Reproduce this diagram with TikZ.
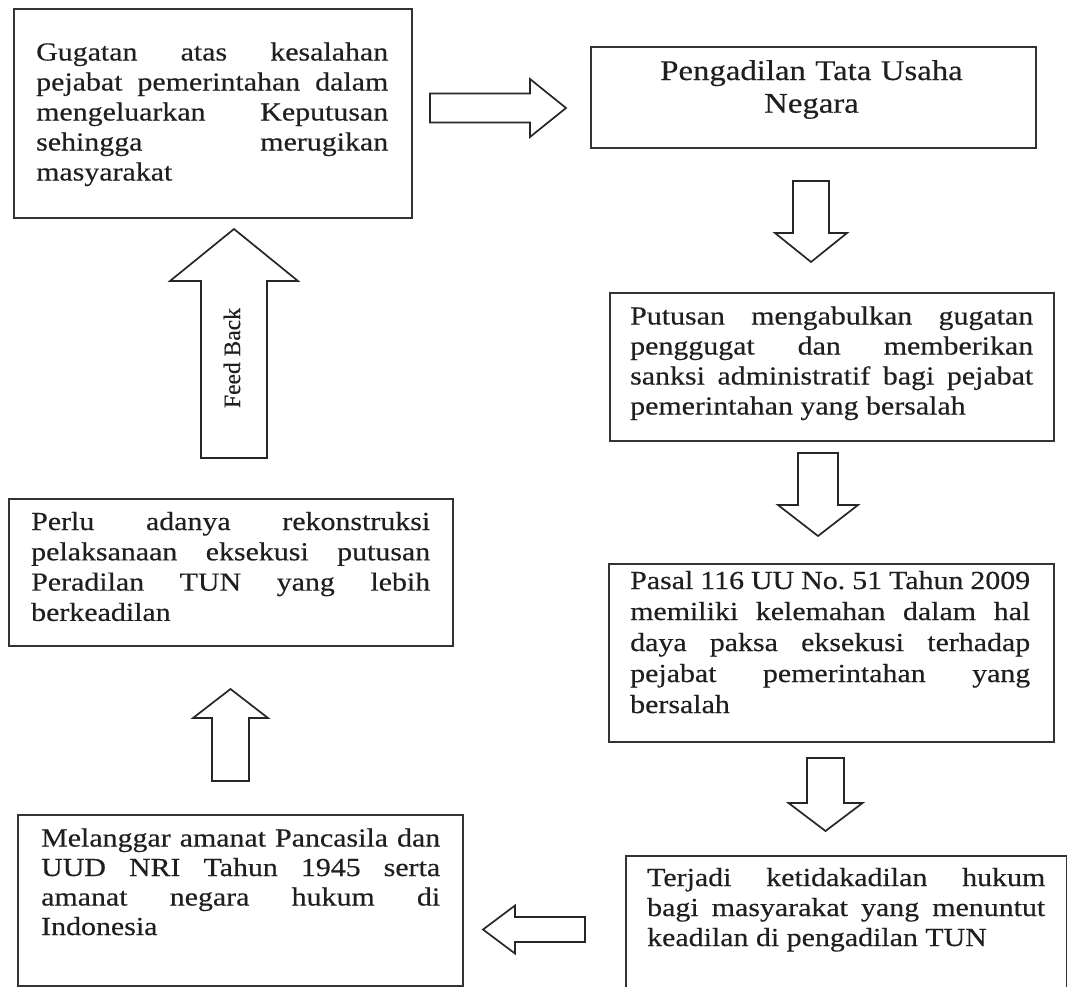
\documentclass[tikz,border=0pt]{standalone}
\usepackage{fontspec}
\setmainfont{Liberation Serif}[FakeStretch=1.15, FakeBold=0.4]
\newfontfamily\plainserif{Liberation Serif}[FakeBold=0.4]
\hyphenpenalty=10000 \exhyphenpenalty=10000
\tolerance=10000 \hbadness=10000 \hfuzz=20pt
\frenchspacing

% hollow block arrow: #1 tail point, #2 direction (deg), #3 length,
% #4 shaft half width, #5 head half width, #6 head length
\newcommand\blockarrow[6]{%
  \draw[blockarrow, shift={#1}, rotate=#2]
    (0,{-#4}) -- ({#3-#6},{-#4}) -- ({#3-#6},{-#5}) -- (#3,0)
    -- ({#3-#6},{#5}) -- ({#3-#6},{#4}) -- (0,{#4}) -- cycle;}

\begin{document}
\begin{tikzpicture}[x=1pt,y=-1pt,
  frame/.style={draw=black!80, line width=1.7pt, inner sep=0pt, anchor=north west},
  flowtext/.style={anchor=base west, inner sep=0pt, align=justify, text=black!88,
                   font=\fontsize{26}{30}\selectfont},
  blockarrow/.style={draw=black!85, line width=1.7pt, fill=white, line join=miter},
]
\useasboundingbox (0,0) rectangle (1067,986);

% boxes
\node[frame, minimum width=398pt, minimum height=209pt] (b1) at (13,8) {};
\node[frame, minimum width=445pt, minimum height=101pt] (b2) at (590,46) {};
\node[frame, minimum width=444pt, minimum height=148pt] (b3) at (609,292) {};
\node[frame, minimum width=445pt, minimum height=178pt] (b4) at (608,563) {};
\node[frame, minimum width=441pt, minimum height=150pt] (b5) at (625,855) {};
\node[frame, minimum width=445pt, minimum height=171pt] (b6) at (17,814) {};
\node[frame, minimum width=444pt, minimum height=147pt] (b7) at (8,498) {};

% texts
\node[flowtext, text width=352pt] (t1) at (36,60.5)
  {Gugatan atas kesalahan\linebreak pejabat pemerintahan dalam\linebreak
   mengeluarkan Keputusan\linebreak sehingga merugikan\linebreak masyarakat};
\node[anchor=base, inner sep=0pt, align=center, text width=430pt, text=black!88,
      font=\fontsize{28.5}{32.7}\selectfont] (t2) at (811.5,80)
  {Pengadilan Tata Usaha\\Negara};
\node[flowtext, text width=403pt] (t3) at (630,324.5)
  {Putusan mengabulkan gugatan\linebreak penggugat dan memberikan\linebreak
   sanksi administratif bagi pejabat\linebreak pemerintahan yang bersalah};
\node[flowtext, text width=400pt, font=\fontsize{26}{31}\selectfont] (t4) at (630,589)
  {Pasal 116 UU No. 51 Tahun 2009\linebreak memiliki kelemahan dalam hal\linebreak
   daya paksa eksekusi terhadap\linebreak pejabat pemerintahan yang\linebreak bersalah};
\node[flowtext, text width=398pt] (t5) at (647,886)
  {Terjadi ketidakadilan hukum\linebreak bagi masyarakat yang menuntut\linebreak
   keadilan di pengadilan TUN};
\node[flowtext, text width=399pt, font=\fontsize{26}{29.5}\selectfont] (t6) at (41,846.5)
  {Melanggar amanat Pancasila dan\linebreak UUD NRI Tahun 1945 serta\linebreak
   amanat negara hukum di\linebreak Indonesia};
\node[flowtext, text width=399pt, font=\fontsize{26}{30.3}\selectfont] (t7) at (31,530)
  {Perlu adanya rekonstruksi\linebreak pelaksanaan eksekusi putusan\linebreak
   Peradilan TUN yang lebih\linebreak berkeadilan};

% arrow tails
\coordinate (a1) at (430,108);
\coordinate (a2) at (811,181);
\coordinate (a3) at (818,453);
\coordinate (a4) at (825.5,758);
\coordinate (a5) at (585,929.5);
\coordinate (a6) at (230.5,781);
\coordinate (a7) at (234,458);

\blockarrow{(a1)}{0}{136}{14.5}{29}{36}
\blockarrow{(a2)}{-90}{81}{18}{36}{29}
\blockarrow{(a3)}{-90}{83}{20}{40}{31}
\blockarrow{(a4)}{-90}{73}{18.5}{37}{28}
\blockarrow{(a5)}{180}{102}{12.5}{24}{32}
\blockarrow{(a6)}{90}{92}{18.5}{37.5}{29}
\blockarrow{(a7)}{90}{229}{33}{64}{52}

\node[rotate=90, inner sep=0pt, text=black!88, font=\plainserif\fontsize{23.5}{28}\selectfont]
  (fb) at (232,358) {Feed Back};
\end{tikzpicture}
\end{document}
